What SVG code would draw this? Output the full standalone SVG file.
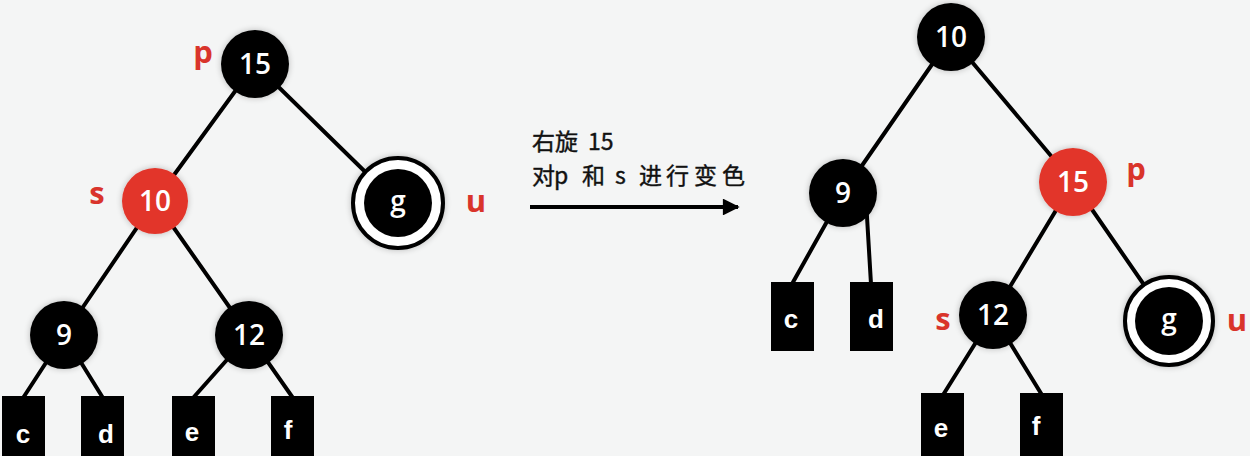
<svg xmlns="http://www.w3.org/2000/svg" width="1250" height="456" viewBox="0 0 1250 456">
<defs>
<style>
.edge{stroke:#000;stroke-width:4;fill:none;stroke-linecap:round}
.blk{fill:#000}
.red{fill:#e2352a}
.num{font-family:"Open Sans","DejaVu Sans",sans-serif;font-weight:600;font-size:28px;fill:#fff;text-anchor:middle}
.leaf{font-family:"Liberation Sans",Arial,sans-serif;font-weight:bold;font-size:26px;fill:#fff;text-anchor:middle}
.lab{font-family:"Open Sans","Liberation Sans",sans-serif;font-weight:bold;font-size:31px;fill:#d9342b;text-anchor:middle}
.note{font-family:"Noto Sans CJK SC","Noto Sans",sans-serif;font-size:23px;fill:#111;stroke:#111;stroke-width:0.4}
</style>
<filter id="sh" x="-30%" y="-30%" width="160%" height="160%">
<feGaussianBlur in="SourceAlpha" stdDeviation="3"/>
<feComponentTransfer><feFuncA type="linear" slope="0.25"/></feComponentTransfer>
<feMerge><feMergeNode/><feMergeNode in="SourceGraphic"/></feMerge>
</filter>
<marker id="ah" viewBox="0 0 10 10" refX="9" refY="5" markerWidth="5" markerHeight="4.2" orient="auto" markerUnits="strokeWidth"><path d="M0,0 L10,5 L0,10 Z" fill="#000"/></marker>
</defs>
<rect width="1250" height="456" fill="#f4f5f5"/>

<g id="connectors">
<line class="edge" x1="255" y1="64" x2="155" y2="201"/>
<line class="edge" x1="255" y1="64" x2="397" y2="203"/>
<line class="edge" x1="155" y1="201" x2="64" y2="335"/>
<line class="edge" x1="155" y1="201" x2="249" y2="335"/>
<line class="edge" x1="64" y1="335" x2="23" y2="398"/>
<line class="edge" x1="64" y1="335" x2="103" y2="398"/>
<line class="edge" x1="249" y1="335" x2="193" y2="398"/>
<line class="edge" x1="249" y1="335" x2="293" y2="398"/>
<line class="edge" x1="951" y1="37" x2="843" y2="193"/>
<line class="edge" x1="951" y1="37" x2="1073" y2="182"/>
<line class="edge" x1="843" y1="193" x2="792" y2="284"/>
<line class="edge" x1="866" y1="200" x2="871" y2="284"/>
<line class="edge" x1="1073" y1="182" x2="993" y2="315"/>
<line class="edge" x1="1073" y1="182" x2="1169" y2="321"/>
<line class="edge" x1="993" y1="315" x2="943" y2="395"/>
<line class="edge" x1="993" y1="315" x2="1042" y2="395"/>
<line x1="530" y1="207" x2="738" y2="207" stroke="#000" stroke-width="4" marker-end="url(#ah)"/>
</g>

<g id="note">
<text class="note" y="150"><tspan x="532">右旋</tspan><tspan x="588">15</tspan></text>
<text class="note" y="184"><tspan x="532">对</tspan><tspan x="554">p</tspan><tspan x="582">和</tspan><tspan x="615">s</tspan><tspan x="639">进</tspan><tspan x="666">行</tspan><tspan x="694">变</tspan><tspan x="722">色</tspan></text>
</g>

<g id="L15"><circle class="blk" cx="255" cy="64" r="34" filter="url(#sh)"/><text class="num" x="255" y="74">15</text></g>
<text class="lab" x="203" y="63">p</text>
<g id="L10"><circle class="red" cx="155" cy="201" r="33" filter="url(#sh)"/><text class="num" x="155" y="211">10</text></g>
<text class="lab" x="97" y="204">s</text>
<g id="Lg"><circle cx="398" cy="203" r="45" fill="#fff" stroke="#000" stroke-width="4" filter="url(#sh)"/><circle class="blk" cx="398" cy="203" r="34"/><text class="num" x="398" y="211">g</text></g>
<text class="lab" x="476" y="212">u</text>
<g id="L9"><circle class="blk" cx="64" cy="335" r="34" filter="url(#sh)"/><text class="num" x="64" y="345">9</text></g>
<g id="L12"><circle class="blk" cx="249" cy="335" r="34" filter="url(#sh)"/><text class="num" x="249" y="345">12</text></g>
<g id="Lc"><rect class="blk" x="2" y="396" width="43" height="70"/><text class="leaf" x="23" y="443">c</text></g>
<g id="Ld"><rect class="blk" x="81" y="396" width="43" height="70"/><text class="leaf" x="106" y="443">d</text></g>
<g id="Le"><rect class="blk" x="172" y="396" width="43" height="70"/><text class="leaf" x="192" y="441">e</text></g>
<g id="Lf"><rect class="blk" x="271" y="396" width="43" height="70"/><text class="leaf" x="288" y="439">f</text></g>

<g id="R10"><circle class="blk" cx="951" cy="37" r="34" filter="url(#sh)"/><text class="num" x="951" y="47">10</text></g>
<g id="R9"><circle class="blk" cx="843" cy="193" r="34" filter="url(#sh)"/><text class="num" x="843" y="203">9</text></g>
<g id="R15"><circle class="red" cx="1073" cy="182" r="34" filter="url(#sh)"/><text class="num" x="1073" y="192">15</text></g>
<text class="lab" x="1136" y="180">p</text>
<g id="Rc"><rect class="blk" x="771" y="282" width="43" height="69"/><text class="leaf" x="791" y="328">c</text></g>
<g id="Rd"><rect class="blk" x="850" y="282" width="43" height="69"/><text class="leaf" x="876" y="328">d</text></g>
<g id="R12"><circle class="blk" cx="993" cy="315" r="34" filter="url(#sh)"/><text class="num" x="993" y="325">12</text></g>
<text class="lab" x="943" y="330">s</text>
<g id="Rg"><circle cx="1169" cy="321" r="44" fill="#fff" stroke="#000" stroke-width="4" filter="url(#sh)"/><circle class="blk" cx="1169" cy="321" r="34"/><text class="num" x="1169" y="329">g</text></g>
<text class="lab" x="1237" y="331">u</text>
<g id="Re"><rect class="blk" x="921" y="393" width="43" height="70"/><text class="leaf" x="941" y="437">e</text></g>
<g id="Rf"><rect class="blk" x="1020" y="393" width="43" height="70"/><text class="leaf" x="1036" y="435">f</text></g>
</svg>
